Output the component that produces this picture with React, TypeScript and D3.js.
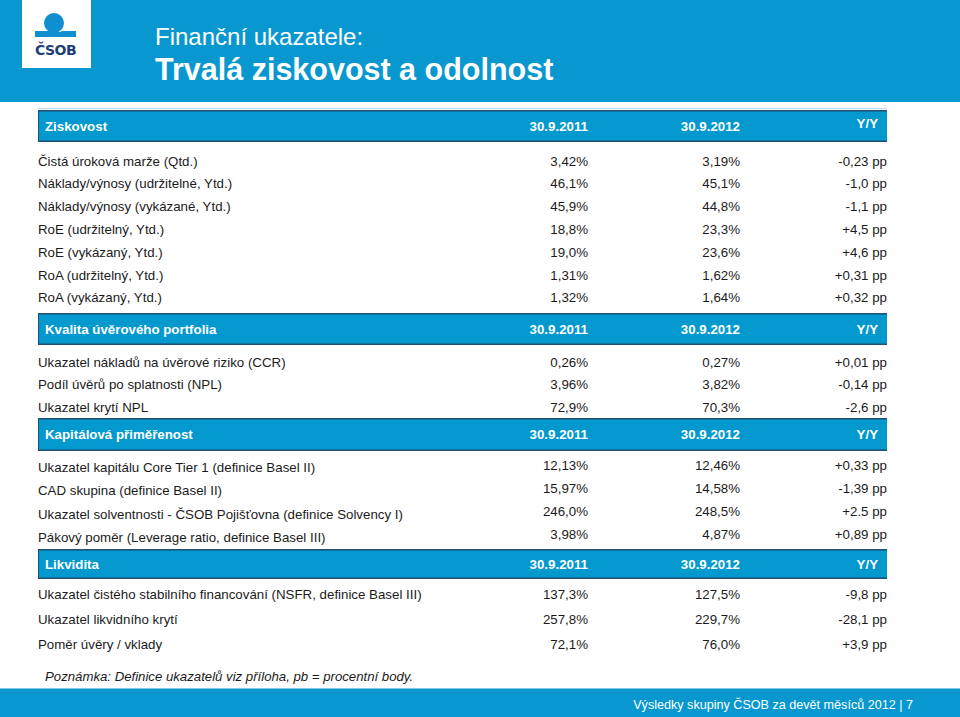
import React from "react";
import * as d3 from "d3";

// ---------- data ----------
const columnHeaders = ["30.9.2011", "30.9.2012", "Y/Y"];
const sectionTitles = ["Ziskovost", "Kvalita úvěrového portfolia", "Kapitálová přiměřenost", "Likvidita"];

const profitLabels = [
  "Čistá úroková marže (Qtd.)",
  "Náklady/výnosy (udržitelné, Ytd.)",
  "Náklady/výnosy (vykázané, Ytd.)",
  "RoE (udržitelný, Ytd.)",
  "RoE (vykázaný, Ytd.)",
  "RoA (udržitelný, Ytd.)",
  "RoA (vykázaný, Ytd.)",
];
const profit2011 = ["3,42%", "46,1%", "45,9%", "18,8%", "19,0%", "1,31%", "1,32%"];
const profit2012 = ["3,19%", "45,1%", "44,8%", "23,3%", "23,6%", "1,62%", "1,64%"];
const profitYY = ["-0,23 pp", "-1,0 pp", "-1,1 pp", "+4,5 pp", "+4,6 pp", "+0,31 pp", "+0,32 pp"];

const creditLabels = [
  "Ukazatel nákladů na úvěrové riziko (CCR)",
  "Podíl úvěrů po splatnosti (NPL)",
  "Ukazatel krytí NPL",
];
const credit2011 = ["0,26%", "3,96%", "72,9%"];
const credit2012 = ["0,27%", "3,82%", "70,3%"];
const creditYY = ["+0,01 pp", "-0,14 pp", "-2,6 pp"];

const capitalLabels = [
  "Ukazatel kapitálu Core Tier 1 (definice Basel II)",
  "CAD skupina (definice Basel II)",
  "Ukazatel solventnosti - ČSOB Pojišťovna (definice Solvency I)",
  "Pákový poměr (Leverage ratio, definice Basel III)",
];
const capital2011 = ["12,13%", "15,97%", "246,0%", "3,98%"];
const capital2012 = ["12,46%", "14,58%", "248,5%", "4,87%"];
const capitalYY = ["+0,33 pp", "-1,39 pp", "+2.5 pp", "+0,89 pp"];

const liquidityLabels = [
  "Ukazatel čistého stabilního financování (NSFR, definice Basel III)",
  "Ukazatel likvidního krytí",
  "Poměr úvěry / vklady",
];
const liquidity2011 = ["137,3%", "257,8%", "72,1%"];
const liquidity2012 = ["127,5%", "229,7%", "76,0%"];
const liquidityYY = ["-9,8 pp", "-28,1 pp", "+3,9 pp"];

const titleLine1 = "Finanční ukazatele:";
const titleLine2 = "Trvalá ziskovost a odolnost";
const noteText = "Poznámka: Definice ukazatelů viz příloha, pb = procentní body.";
const footerText = "Výsledky skupiny ČSOB za devět měsíců 2012 | 7";

// ---------- layout ----------
const W = 960;
const H = 717;
const BLUE = "#0898cf";
const BAR_BLUE = "#0399cf";
const DARK = "#1f4f72";
const TEXT = "#1b1b1b";
const FONT = "'Liberation Sans', Arial, Helvetica, sans-serif";
const FS = 13.3;

const sections = [
  { title: sectionTitles[0], labels: profitLabels, v1: profit2011, v2: profit2012, v3: profitYY,
    top: 110, bottom: 142, rowStart: 161, rowStep: 22.8, valueShift: 0, yyShift: -3 },
  { title: sectionTitles[1], labels: creditLabels, v1: credit2011, v2: credit2012, v3: creditYY,
    top: 313, bottom: 345, rowStart: 362, rowStep: 22.6, valueShift: 0, yyShift: 0 },
  { title: sectionTitles[2], labels: capitalLabels, v1: capital2011, v2: capital2012, v3: capitalYY,
    top: 418, bottom: 451, rowStart: 467.5, rowStep: 23.2, valueShift: -2.5, yyShift: 0 },
  { title: sectionTitles[3], labels: liquidityLabels, v1: liquidity2011, v2: liquidity2012, v3: liquidityYY,
    top: 549, bottom: 579, rowStart: 594, rowStep: 25, valueShift: 0, yyShift: 0 },
];

const colX = d3.scaleOrdinal<string, number>().domain(["label", "c1", "c2", "c3"]).range([38, 588, 740, 887]);
const headerX = d3.scaleOrdinal<string, number>().domain(columnHeaders).range([588, 740, 878]);

export default function App() {
  return (
    <svg width={W} height={H} style={{ position: "absolute", left: 0, top: 0, display: "block" }}
      fontFamily={FONT}>
      <rect x={0} y={0} width={W} height={H} fill="#ffffff" />
      {/* top banner */}
      <rect x={0} y={0} width={W} height={102} fill={BLUE} />
      {/* logo */}
      <g>
        <rect x={22} y={0} width={69} height={68} fill="#ffffff" />
        <circle cx={54} cy={23} r={10} fill="#0f8fd0" />
        <path d="M35,31 L50,31 Q57,33 63,31 L76,31 L76,37 L35,37 Z" fill="#0f8fd0" />
        <text x={55.5} y={55} textAnchor="middle" fontSize={14} fontWeight="bold" fill="#1d3f78"
          fontFamily="'DejaVu Sans', sans-serif" letterSpacing={-0.5}>ČSOB</text>
      </g>
      <text x={155} y={45} fontSize={24} fill="#ffffff">{titleLine1}</text>
      <text x={155} y={80} fontSize={30.5} fontWeight="bold" fill="#ffffff">{titleLine2}</text>

      <line x1={38} x2={887} y1={108.5} y2={108.5} stroke="#b5def0" strokeWidth={1} />

      {sections.map((s, si) => {
        const rowY = d3.scaleLinear().domain([0, 1]).range([s.rowStart, s.rowStart + s.rowStep]);
        const mid = (s.top + s.bottom) / 2;
        return (
          <g key={si}>
            <rect x={38} y={s.top} width={849} height={s.bottom - s.top} fill={BAR_BLUE} />
            <line x1={38} x2={887} y1={s.top + 0.75} y2={s.top + 0.75} stroke={DARK} strokeWidth={1.5} />
            <line x1={38} x2={887} y1={s.bottom - 0.75} y2={s.bottom - 0.75} stroke={DARK} strokeWidth={1.5} />
            <line x1={38.5} x2={38.5} y1={s.top} y2={s.bottom} stroke={DARK} strokeWidth={1} />
            <text x={45} y={mid} dy="0.35em" fontSize={FS} fontWeight="bold" fill="#ffffff">{s.title}</text>
            {columnHeaders.map((h, hi) => (
              <text key={h} x={headerX(h)} y={mid + (hi === 2 ? s.yyShift : 0)} dy="0.35em" textAnchor="end"
                fontSize={FS} fontWeight="bold" fill="#ffffff">{h}</text>
            ))}
            {s.labels.map((lab, i) => (
              <g key={i}>
                <text x={colX("label")} y={rowY(i)} dy="0.35em" fontSize={FS} fill={TEXT}>{lab}</text>
                <text x={colX("c1")} y={rowY(i) + s.valueShift} dy="0.35em" textAnchor="end" fontSize={FS} fill={TEXT}>{s.v1[i]}</text>
                <text x={colX("c2")} y={rowY(i) + s.valueShift} dy="0.35em" textAnchor="end" fontSize={FS} fill={TEXT}>{s.v2[i]}</text>
                <text x={colX("c3")} y={rowY(i) + s.valueShift} dy="0.35em" textAnchor="end" fontSize={FS} fill={TEXT}>{s.v3[i]}</text>
              </g>
            ))}
          </g>
        );
      })}

      <text x={45} y={676} dy="0.35em" fontSize={13.2} fontStyle="italic" fill={TEXT}>{noteText}</text>

      {/* footer */}
      <rect x={0} y={688} width={W} height={H - 688} fill={BLUE} />
      <line x1={0} x2={W} y1={688.5} y2={688.5} stroke="#7cc6e6" strokeWidth={1} />
      <text x={913} y={705} dy="0.35em" textAnchor="end" fontSize={12.6} fill="#ffffff">{footerText}</text>
    </svg>
  );
}
